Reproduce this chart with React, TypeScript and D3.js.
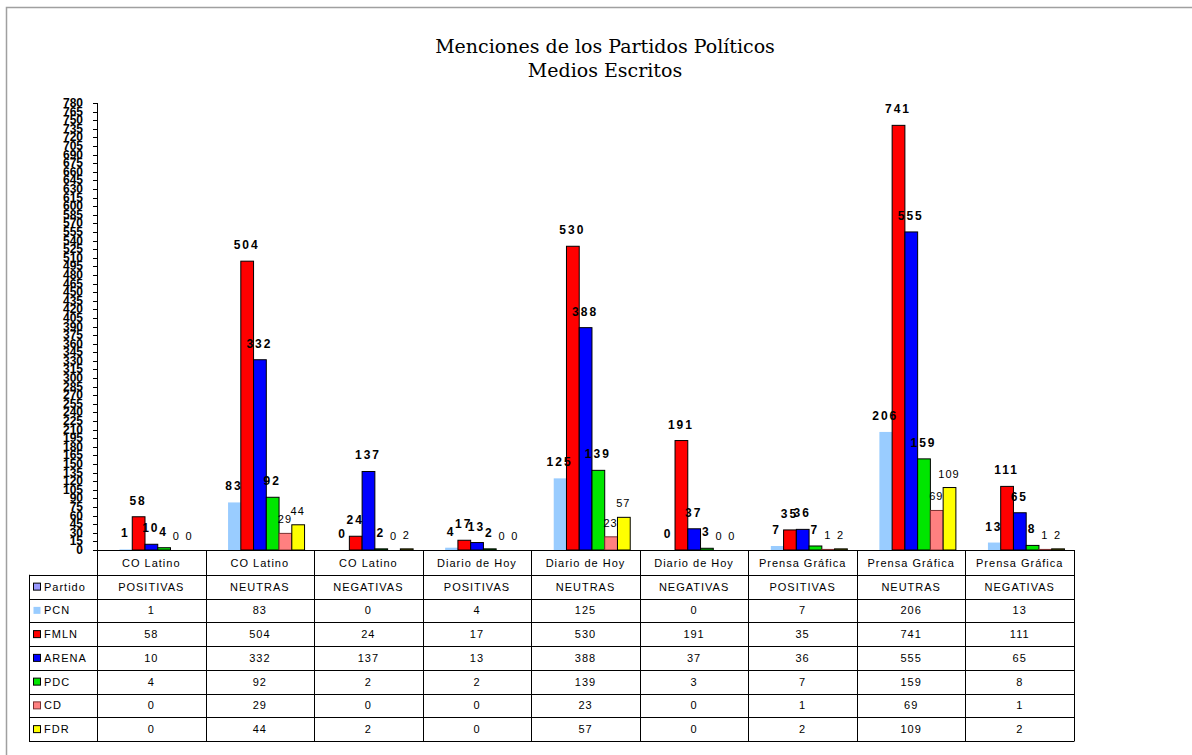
import React from "react";
import * as d3 from "d3";

// chart data
const medios = ["CO Latino", "CO Latino", "CO Latino", "Diario de Hoy", "Diario de Hoy", "Diario de Hoy", "Prensa Gráfica", "Prensa Gráfica", "Prensa Gráfica"];
const tipos = ["POSITIVAS", "NEUTRAS", "NEGATIVAS", "POSITIVAS", "NEUTRAS", "NEGATIVAS", "POSITIVAS", "NEUTRAS", "NEGATIVAS"];
const partidos = ["PCN", "FMLN", "ARENA", "PDC", "CD", "FDR"];
const pcn = [1, 83, 0, 4, 125, 0, 7, 206, 13];
const fmln = [58, 504, 24, 17, 530, 191, 35, 741, 111];
const arena = [10, 332, 137, 13, 388, 37, 36, 555, 65];
const pdc = [4, 92, 2, 2, 139, 3, 7, 159, 8];
const cd = [0, 29, 0, 0, 23, 0, 1, 69, 1];
const fdr = [0, 44, 2, 0, 57, 0, 2, 109, 2];

const seriesValues = [pcn, fmln, arena, pdc, cd, fdr];
const colors = ["#99CCFF", "#FF0000", "#0000FF", "#00E600", "#FF8080", "#FFFF00"];
const strokes = ["none", "#000", "#000", "#000", "#7a3030", "#000"];

const W = 1192;
const H = 755;
const plotLeft = 97;
const plotRight = 1074;
const plotTop = 103;
const plotBottom = 550;

export default function App() {
  const x = d3.scaleBand<number>().domain(d3.range(medios.length)).range([plotLeft, plotRight]);
  const inner = d3.scaleBand<string>().domain(partidos).range([22, 22 + 76.5]);
  const y = d3.scaleLinear().domain([0, 780]).range([plotBottom, plotTop]);
  const yTicks = d3.range(0, 781, 15);

  const rowKeys = ["medio", "tipo", ...partidos];
  const rows = d3.scaleBand<string>().domain(rowKeys).range([plotBottom + 1, 741]);
  const legendLeft = 29;

  const font = "Arial, 'Liberation Sans', sans-serif";

  return (
    <svg width={W} height={H} style={{ position: "absolute", left: 0, top: 0, background: "#fff" }}>
      <rect x={6.5} y={7.5} width={W + 20} height={H + 20} fill="#fff" stroke="#a0a0a0" strokeWidth={1.5} />

      <text x={605} y={53} textAnchor="middle" fontFamily="'DejaVu Serif', serif" fontSize={19}>
        Menciones de los Partidos Políticos
      </text>
      <text x={605} y={77} textAnchor="middle" fontFamily="'DejaVu Serif', serif" fontSize={19}>
        Medios Escritos
      </text>

      {/* y axis */}
      <line x1={plotLeft + 0.5} x2={plotLeft + 0.5} y1={plotTop} y2={plotBottom} stroke="#000" />
      {yTicks.map((t) => (
        <g key={t}>
          <line x1={plotLeft - 4} x2={plotLeft} y1={Math.round(y(t)) + 0.5} y2={Math.round(y(t)) + 0.5} stroke="#000" />
          <text x={83} y={y(t) + 4} textAnchor="end" fontFamily={font} fontWeight="bold" fontSize={12}>
            {t}
          </text>
        </g>
      ))}

      {/* bars */}
      {seriesValues.map((vals, si) =>
        vals.map((v, i) => {
          const bx = (x(i) as number) + (inner(partidos[si]) as number);
          const bw = inner.bandwidth();
          const top = y(v);
          return (
            <rect key={`${si}-${i}`} x={bx + 0.5} y={top} width={bw} height={plotBottom - top}
              fill={colors[si]} stroke={strokes[si]} strokeWidth={1} />
          );
        })
      )}

      {/* value labels */}
      {seriesValues.map((vals, si) =>
        vals.map((v, i) => {
          const cx = (x(i) as number) + (inner(partidos[si]) as number) + inner.bandwidth() / 2;
          const bold = si < 4;
          return (
            <text key={`l${si}-${i}`} x={cx} y={y(v) - (bold ? 12 : 10)} textAnchor="middle"
              fontFamily={font} fontWeight={bold ? "bold" : "normal"} fontSize={bold ? 12 : 11}
              letterSpacing={bold ? 2 : 1}>
              {v}
            </text>
          );
        })
      )}

      {/* data table */}
      <g fontFamily={font} fontSize={11} letterSpacing={1}>
        <line x1={plotLeft} x2={plotRight} y1={plotBottom + 0.5} y2={plotBottom + 0.5} stroke="#000" />
        {rowKeys.slice(1).map((k) => (
          <line key={k} x1={legendLeft} x2={plotRight} y1={Math.round(rows(k) as number) + 0.5}
            y2={Math.round(rows(k) as number) + 0.5} stroke="#000" />
        ))}
        <line x1={legendLeft} x2={plotRight} y1={741.5} y2={741.5} stroke="#000" />
        <line x1={legendLeft + 0.5} x2={legendLeft + 0.5} y1={rows("tipo") as number} y2={741.5} stroke="#000" />
        {medios.map((_, i) => (
          <line key={i} x1={Math.round((x(i) as number) + x.bandwidth()) + 0.5}
            x2={Math.round((x(i) as number) + x.bandwidth()) + 0.5} y1={plotBottom} y2={741.5} stroke="#000" />
        ))}
        <line x1={plotLeft + 0.5} x2={plotLeft + 0.5} y1={plotBottom} y2={741.5} stroke="#000" />

        {medios.map((m, i) => (
          <g key={i}>
            <text x={(x(i) as number) + x.bandwidth() / 2} y={(rows("medio") as number) + rows.bandwidth() / 2 + 4} textAnchor="middle">{m}</text>
            <text x={(x(i) as number) + x.bandwidth() / 2} y={(rows("tipo") as number) + rows.bandwidth() / 2 + 4} textAnchor="middle">{tipos[i]}</text>
            {seriesValues.map((vals, si) => (
              <text key={si} x={(x(i) as number) + x.bandwidth() / 2}
                y={(rows(partidos[si]) as number) + rows.bandwidth() / 2 + 4} textAnchor="middle">{vals[i]}</text>
            ))}
          </g>
        ))}

        {/* legend column */}
        <rect x={legendLeft + 4.5} y={(rows("tipo") as number) + rows.bandwidth() / 2 - 3.5} width={7} height={7} fill="#9999FF" stroke="#000" />
        <text x={legendLeft + 15} y={(rows("tipo") as number) + rows.bandwidth() / 2 + 4}>Partido</text>
        {partidos.map((p, si) => (
          <g key={p}>
            <rect x={legendLeft + 4.5} y={(rows(p) as number) + rows.bandwidth() / 2 - 3.5} width={7} height={7}
              fill={colors[si]} stroke={strokes[si]} />
            <text x={legendLeft + 15} y={(rows(p) as number) + rows.bandwidth() / 2 + 4}>{p}</text>
          </g>
        ))}
      </g>
    </svg>
  );
}
